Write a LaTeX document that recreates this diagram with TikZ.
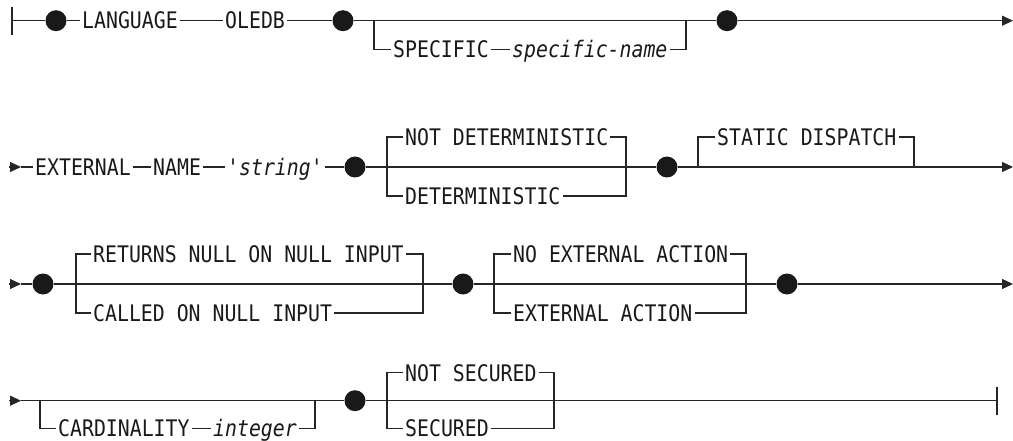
\documentclass[tikz,border=0pt]{standalone}
\usepackage{fontspec}
\newfontfamily\railfont{DejaVu Sans Mono}[FakeStretch=0.87]
\usetikzlibrary{arrows.meta}

\begin{document}
\begin{tikzpicture}[x=1pt, y=1pt,
    rail/.style = {draw=black!85, line width=1.2pt},
    kw/.style = {anchor=west, inner xsep=2pt, inner ysep=0pt, text height=16.6pt, text depth=0pt, text=black!90, font=\railfont\fontsize{22.8}{24}\selectfont},
    var/.style = {kw, font=\railfont\itshape\fontsize{22.8}{24}\selectfont},
    dot/.style = {circle, fill=black!90, inner sep=0pt, minimum size=21pt},
    endarrow/.style = {rail, -{Triangle[length=11pt, width=10pt]}}
]
\useasboundingbox (0,0) rectangle (1013,-441);

% Row 1
\coordinate (r1s) at (12,-20.7);
\node (d1) [dot] at (56,-20.7) {};
\node (lang) [kw] at (80,-20.7) {LANGUAGE};
\node (oledb) [kw] at (223,-20.7) {OLEDB};
\node (d2) [dot] at (343,-20.7) {};
\coordinate (b1l) at (374,-20.7);
\node (spec) [kw] at (391,-49.7) {SPECIFIC};
\node (specname) [var] at (510,-49.7) {specific-name};
\coordinate (b1r) at (686,-20.7);
\node (d3) [dot] at (727,-20.7) {};
\coordinate (r1e) at (1013,-20.7);

\draw [rail] (r1s) ++(0,14) -- ++(0,-28);
\draw [rail] (r1s) -- (d1) -- (lang) -- (oledb) -- (d2) -- (d3);
\draw [endarrow] (d3) -- (r1e);
\draw [rail] (b1l) |- (spec.west);
\draw [rail] (spec) -- (specname);
\draw [rail] (specname.east) -| (b1r);

% Row 2
\coordinate (r2a) at (9,-167);
\coordinate (r2s) at (21,-167);
\node (ext) [kw] at (33,-167) {EXTERNAL};
\node (name) [kw] at (151,-167) {NAME};
\node (str) [var] at (225,-167) {'string'};
\node (d4) [dot] at (355,-167) {};
\coordinate (b2l) at (387,-167);
\node (notdet) [kw] at (403,-137) {NOT DETERMINISTIC};
\node (det) [kw] at (403,-196) {DETERMINISTIC};
\coordinate (b2r) at (626,-167);
\node (d5) [dot] at (667,-167) {};
\coordinate (b3l) at (698,-167);
\node (static) [kw] at (715,-137) {STATIC DISPATCH};
\coordinate (b3r) at (914,-167);
\coordinate (r2e) at (1013,-167);

\draw [endarrow] (r2a) -- (r2s);
\draw [rail] (r2s) -- (ext) -- (name) -- (str) -- (d4) -- (d5);
\draw [rail] (notdet.west) -| (b2l) |- (det.west);
\draw [rail] (notdet.east) -| (b2r) |- (det.east);
\draw [endarrow] (d5) -- (r2e);
\draw [rail] (b3l) |- (static.west);
\draw [rail] (static.east) -| (b3r);

% Row 3
\coordinate (r3a) at (9,-284);
\coordinate (r3s) at (21,-284);
\node (d6) [dot] at (43,-284) {};
\coordinate (b4l) at (76,-284);
\node (retnull) [kw] at (91,-254) {RETURNS NULL ON NULL INPUT};
\node (called) [kw] at (91,-313) {CALLED ON NULL INPUT};
\coordinate (b4r) at (423,-284);
\node (d7) [dot] at (463,-284) {};
\coordinate (b5l) at (494,-284);
\node (noext) [kw] at (511,-254) {NO EXTERNAL ACTION};
\node (extact) [kw] at (511,-313) {EXTERNAL ACTION};
\coordinate (b5r) at (746,-284);
\node (d8) [dot] at (787,-284) {};
\coordinate (r3e) at (1013,-284);

\draw [endarrow] (r3a) -- (r3s);
\draw [rail] (r3s) -- (d6) -- (d7) -- (d8);
\draw [rail] (retnull.west) -| (b4l) |- (called.west);
\draw [rail] (retnull.east) -| (b4r) |- (called.east);
\draw [rail] (noext.west) -| (b5l) |- (extact.west);
\draw [rail] (noext.east) -| (b5r) |- (extact.east);
\draw [endarrow] (d8) -- (r3e);

% Row 4
\coordinate (r4a) at (9,-400.7);
\coordinate (r4s) at (21,-400.7);
\coordinate (b6l) at (40,-400.7);
\node (card) [kw] at (56,-428.5) {CARDINALITY};
\node (int) [var] at (211,-428.5) {integer};
\coordinate (b6r) at (315,-400.7);
\node (d9) [dot] at (355,-400.7) {};
\coordinate (b7l) at (387,-400.7);
\node (notsec) [kw] at (403,-372.7) {NOT SECURED};
\node (sec) [kw] at (403,-428.5) {SECURED};
\coordinate (b7r) at (554,-400.7);
\coordinate (r4e) at (997,-400.7);

\draw [endarrow] (r4a) -- (r4s);
\draw [rail] (r4s) -- (d9) -- (r4e);
\draw [rail] (b6l) |- (card.west);
\draw [rail] (card) -- (int);
\draw [rail] (int.east) -| (b6r);
\draw [rail] (notsec.west) -| (b7l) |- (sec.west);
\draw [rail] (notsec.east) -| (b7r) |- (sec.east);
\draw [rail] (r4e) ++(0,14) -- ++(0,-28);

\end{tikzpicture}
\end{document}
